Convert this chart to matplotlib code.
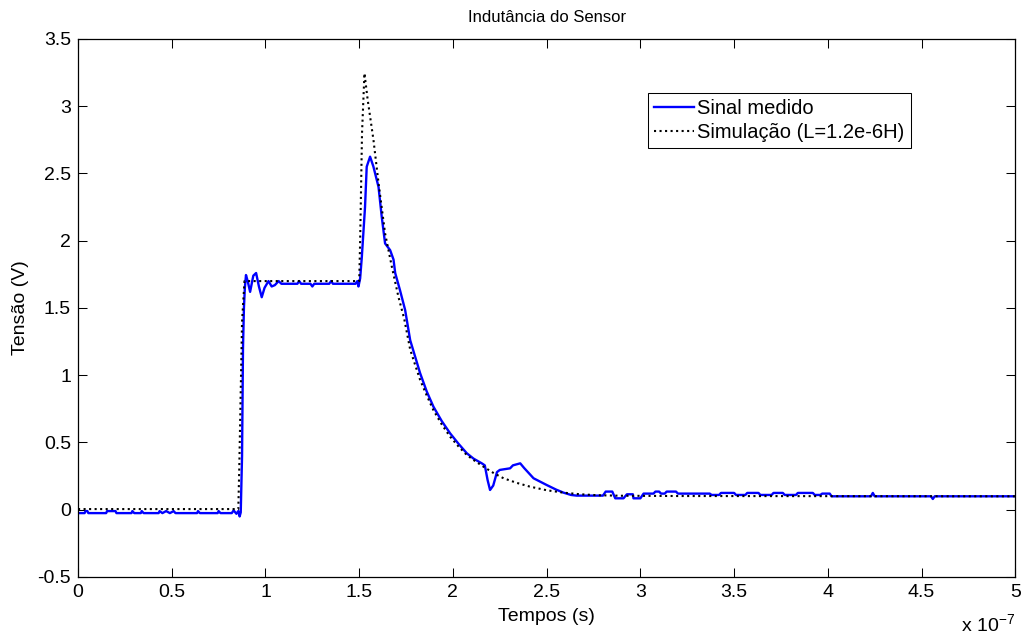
import matplotlib
matplotlib.use('Agg')
import matplotlib.pyplot as plt

plt.rcParams['font.family'] = ['Liberation Sans', 'DejaVu Sans']
plt.rcParams['mathtext.default'] = 'regular'

# time in units of 1e-7 s
t_med = [0.00, 0.035, 0.04, 0.05, 0.055, 0.15, 0.155, 0.20, 0.205, 0.285, 0.29, 0.30,
         0.335, 0.34, 0.35, 0.43, 0.435, 0.45, 0.47, 0.49, 0.51, 0.52, 0.635, 0.64, 0.65,
         0.745, 0.75, 0.76, 0.82, 0.83, 0.845, 0.855, 0.862, 0.868,
         0.875, 0.88, 0.885, 0.89, 0.896, 0.905, 0.918, 0.935, 0.95, 0.965, 0.98, 0.995,
         1.016, 1.033, 1.05, 1.07, 1.085, 1.17, 1.18, 1.19, 1.24, 1.25, 1.26, 1.34, 1.35,
         1.36, 1.48, 1.49, 1.496, 1.505, 1.514, 1.531, 1.54, 1.558, 1.576, 1.603, 1.62,
         1.638, 1.665, 1.683, 1.692, 1.718, 1.745, 1.772, 1.80, 1.825, 1.86, 1.896, 1.94,
         1.985, 2.03, 2.074, 2.11, 2.154, 2.17, 2.185, 2.198, 2.215, 2.235, 2.25, 2.305,
         2.32, 2.359, 2.38, 2.43, 2.50, 2.55, 2.59, 2.63, 2.66, 2.80, 2.815, 2.85, 2.866,
         2.91, 2.928, 2.96, 2.963, 3.0, 3.017, 3.07, 3.08, 3.10, 3.11, 3.13, 3.14, 3.19,
         3.20, 3.37, 3.38, 3.42, 3.43, 3.50, 3.51, 3.56, 3.57, 3.63, 3.64, 3.70, 3.71,
         3.76, 3.77, 3.83, 3.84, 3.92, 3.93, 3.96, 3.97, 4.01, 4.02, 4.23, 4.24, 4.25,
         4.55, 4.56, 4.57, 5.0]
v_med = [-0.025, -0.025, -0.01, -0.01, -0.025, -0.025, -0.01, -0.01, -0.025, -0.025, -0.01, -0.025,
         -0.025, -0.01, -0.025, -0.025, -0.01, -0.025, -0.01, -0.025, -0.01, -0.025, -0.025, -0.01, -0.025,
         -0.025, -0.01, -0.025, -0.025, -0.005, -0.03, -0.01, -0.05, -0.02,
         0.4, 1.2, 1.5, 1.65, 1.745, 1.70, 1.62, 1.74, 1.76, 1.66, 1.58, 1.65,
         1.70, 1.66, 1.67, 1.70, 1.68, 1.68, 1.70, 1.68, 1.68, 1.66, 1.68, 1.68, 1.70,
         1.68, 1.68, 1.70, 1.66, 1.72, 1.88, 2.25, 2.55, 2.625, 2.55, 2.40, 2.18,
         1.98, 1.93, 1.86, 1.76, 1.63, 1.485, 1.26, 1.13, 1.015, 0.88, 0.766, 0.66,
         0.568, 0.49, 0.42, 0.38, 0.345, 0.33, 0.22, 0.147, 0.18, 0.28, 0.296, 0.308,
         0.33, 0.345, 0.31, 0.234, 0.184, 0.15, 0.127, 0.11, 0.105, 0.105, 0.135, 0.135, 0.085,
         0.085, 0.115, 0.115, 0.085, 0.085, 0.12, 0.12, 0.135, 0.135, 0.12, 0.12, 0.135, 0.135,
         0.12, 0.12, 0.11, 0.11, 0.125, 0.125, 0.11, 0.11, 0.125, 0.125, 0.11, 0.11, 0.125,
         0.125, 0.11, 0.11, 0.125, 0.125, 0.11, 0.11, 0.12, 0.12, 0.1, 0.1, 0.125, 0.1,
         0.1, 0.08, 0.1, 0.1]

t_sim = [0.0, 0.855, 0.86, 0.875, 0.888, 1.50, 1.505, 1.515, 1.528, 1.545, 1.576, 1.603,
         1.638, 1.674, 1.709, 1.74, 1.772, 1.80, 1.825, 1.86, 1.896, 1.94, 1.985, 2.03,
         2.074, 2.12, 2.163, 2.22, 2.27, 2.34, 2.41, 2.50, 2.59, 2.68, 2.77, 2.9, 3.2, 5.0]
v_sim = [0.005, 0.005, 0.3, 1.4, 1.70, 1.70, 2.0, 2.8, 3.245, 3.05, 2.75, 2.43,
         2.055, 1.807, 1.584, 1.42, 1.19, 1.07, 0.965, 0.85, 0.74, 0.635, 0.543, 0.47,
         0.407, 0.36, 0.32, 0.27, 0.234, 0.20, 0.172, 0.145, 0.127, 0.115, 0.108, 0.104, 0.102, 0.1]

fig = plt.figure(figsize=(10.24, 6.37), dpi=100)
ax = fig.add_axes([0.0762, 0.0942, 0.9153, 0.8446])

ax.plot(t_med, v_med, color='blue', lw=1.7, label='Sinal medido')
ax.plot(t_sim, v_sim, color='black', lw=1.5, ls=':', label='Simulação (L=1.2e-6H)')

ax.set_xlim(0, 5)
ax.set_ylim(-0.5, 3.5)
ax.set_xticks([0, 0.5, 1, 1.5, 2, 2.5, 3, 3.5, 4, 4.5, 5])
ax.set_xticklabels(['0', '0.5', '1', '1.5', '2', '2.5', '3', '3.5', '4', '4.5', '5'])
ax.set_yticks([-0.5, 0, 0.5, 1, 1.5, 2, 2.5, 3, 3.5])
ax.set_yticklabels(['-0.5', '0', '0.5', '1', '1.5', '2', '2.5', '3', '3.5'])
ax.tick_params(direction='in', top=True, right=True, length=6.5, width=0.75,
               labelsize=14, pad=5)
for s in ax.spines.values():
    s.set_linewidth(0.9)

ax.set_title('Indutância do Sensor', fontsize=12, pad=12)
ax.set_xlabel('Tempos (s)', fontsize=14, labelpad=5)
ax.set_ylabel('Tensão (V)', fontsize=14, labelpad=6)
ax.text(1.0, -0.088, 'x 10$^{-7}$', transform=ax.transAxes, ha='right', va='center',
        fontsize=14)

leg = ax.legend(loc='upper left', bbox_to_anchor=(0.608, 0.90), fontsize=14.5,
                fancybox=False, framealpha=1, edgecolor='black', borderpad=0.3,
                handlelength=2.0, handletextpad=0.15, labelspacing=0.25, borderaxespad=0)
leg.get_frame().set_linewidth(0.75)

fig.savefig('out.png', dpi=100)
